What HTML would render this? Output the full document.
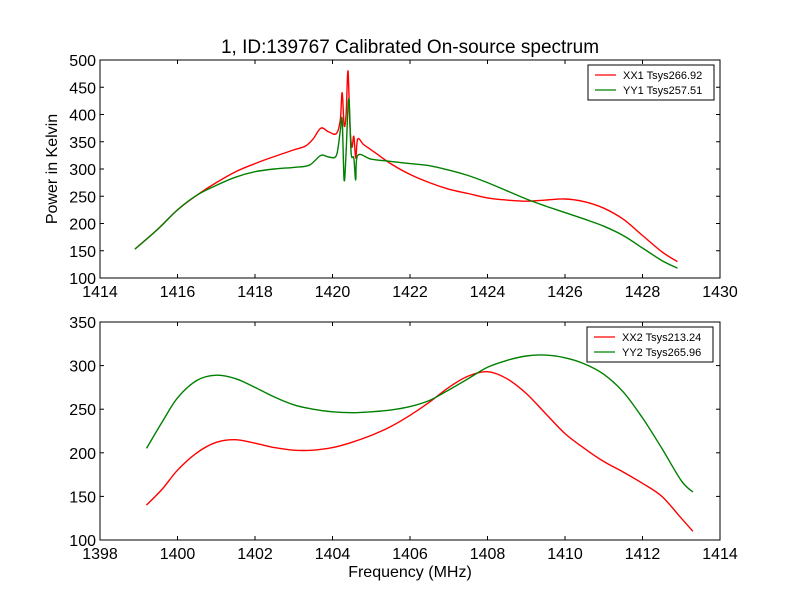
<!DOCTYPE html>
<html><head><meta charset="utf-8"><style>body{margin:0;background:#fff}svg{display:block;font-family:"Liberation Sans","DejaVu Sans",sans-serif}</style></head>
<body>
<svg id="chart" width="800" height="600"></svg>
<script>
const xx1F=[1414.9,1415.5,1416,1416.5,1417,1417.5,1418,1418.5,1419,1419.3,1419.5,1419.7,1419.9,1420.1,1420.2,1420.25,1420.3,1420.35,1420.4,1420.45,1420.5,1420.55,1420.6,1420.65,1420.8,1421,1421.5,1422,1422.5,1423,1423.5,1424,1424.5,1425,1425.5,1426,1426.5,1427,1427.5,1428,1428.5,1428.9];
const xx1V=[153,190,225,252,275,295,310,323,335,342,355,375,368,365,390,440,380,400,480,380,340,360,320,355,345,335,310,290,275,263,255,247,243,241,243,245,240,228,208,178,148,130];
const yy1F=[1414.9,1415.5,1416,1416.5,1417,1417.5,1418,1418.5,1419,1419.4,1419.7,1419.9,1420.1,1420.2,1420.25,1420.3,1420.35,1420.42,1420.48,1420.55,1420.6,1420.65,1421,1421.5,1422,1422.5,1423,1423.5,1424,1424.5,1425,1425.5,1426,1426.5,1427,1427.5,1428,1428.5,1428.9];
const yy1V=[153,190,225,252,270,285,295,300,303,307,325,322,325,370,390,280,330,430,330,320,280,325,318,314,310,306,298,288,275,260,245,232,220,208,195,178,155,132,118];
const xx2F=[1399.2,1399.6,1400,1400.5,1401,1401.5,1402,1402.5,1403,1403.5,1404,1404.5,1405,1405.5,1406,1406.5,1407,1407.5,1408,1408.5,1409,1409.5,1410,1410.5,1411,1411.5,1412,1412.5,1413,1413.3];
const xx2V=[140,158,180,200,212,215,211,206,203,203,206,212,220,230,243,258,275,288,293,285,268,245,222,205,190,178,165,150,125,110];
const yy2F=[1399.2,1399.6,1400,1400.5,1401,1401.5,1402,1402.5,1403,1403.5,1404,1404.5,1405,1405.5,1406,1406.5,1407,1407.5,1408,1408.5,1409,1409.5,1410,1410.5,1411,1411.5,1412,1412.5,1413,1413.3];
const yy2V=[205,235,263,283,289,285,275,264,255,250,247,246,247,249,253,260,272,285,298,306,311,312,309,302,290,270,240,205,168,155];
const topXT=[1414,1416,1418,1420,1422,1424,1426,1428,1430];
const topYT=[100,150,200,250,300,350,400,450,500];
const botXT=[1398,1400,1402,1404,1406,1408,1410,1412,1414];
const botYT=[100,150,200,250,300,350];

const NS="http://www.w3.org/2000/svg";
const svg=document.getElementById('chart');
function el(t,a,p){const e=document.createElementNS(NS,t);for(const k in a)e.setAttribute(k,a[k]);(p||svg).appendChild(e);return e;}
function txt(s,a,p){const e=el('text',a,p);e.textContent=s;return e;}
function smooth(pts){
  let d='M'+pts[0][0].toFixed(1)+','+pts[0][1].toFixed(1);
  for(let i=0;i<pts.length-1;i++){
    const p0=pts[Math.max(0,i-1)],p1=pts[i],p2=pts[i+1],p3=pts[Math.min(pts.length-1,i+2)];
    const k=1/6;
    const c1=[p1[0]+(p2[0]-p0[0])*k,p1[1]+(p2[1]-p0[1])*k];
    const c2=[p2[0]-(p3[0]-p1[0])*k,p2[1]-(p3[1]-p1[1])*k];
    d+='C'+c1[0].toFixed(1)+','+c1[1].toFixed(1)+' '+c2[0].toFixed(1)+','+c2[1].toFixed(1)+' '+p2[0].toFixed(1)+','+p2[1].toFixed(1);
  }
  return d;
}

function panel(name,top,x0,x1,y0,y1,xt,yt,series,legend){
  const L=100,R=720,T=top,B=top+218;
  const sx=f=>L+(f-x0)/(x1-x0)*(R-L), sy=v=>B-(v-y0)/(y1-y0)*(B-T);
  const g=el('g',{});
  
  
  const clip=el('clipPath',{id:name+'-clip'},g);el('rect',{x:L,y:T,width:R-L,height:B-T},clip);
  series.forEach(s=>{
    const pts=s.f.map((f,i)=>[sx(f),sy(s.v[i])]);
    const p=el('path',{d:smooth(pts),fill:'none',stroke:s.c,'stroke-width':1.4,'clip-path':'url(#'+name+'-clip)'},g);
    
    
  });
  const fr=el('rect',{x:L,y:T,width:R-L,height:B-T,fill:'none',stroke:'#000','stroke-width':1},g);
  
  
  xt.forEach(t=>{const x=sx(t);el('line',{x1:x,x2:x,y1:B,y2:B-4,stroke:'#000'},g);el('line',{x1:x,x2:x,y1:T,y2:T+4,stroke:'#000'},g);
    const e=txt(String(t),{x:x,y:B+19,'font-size':16,'text-anchor':'middle'},g);
    
    });
  yt.forEach(t=>{const y=sy(t);el('line',{x1:L,x2:L+4,y1:y,y2:y,stroke:'#000'},g);el('line',{x1:R,x2:R-4,y1:y,y2:y,stroke:'#000'},g);
    const e=txt(String(t),{x:L-4,y:y+6,'font-size':16,'text-anchor':'end'},g);
    
    });
  const lg=el('g',{},g);
  
  
  el('rect',{x:legend.x,y:T+5,width:126,height:35,fill:'#fff',stroke:'#000'},lg);
  legend.items.forEach((it,i)=>{const y=T+15+i*15;
    el('line',{x1:legend.x+7,x2:legend.x+28,y1:y,y2:y,stroke:it.c,'stroke-width':1.2},lg);
    const e=txt(it.t,{x:legend.x+35,y:y+4,'font-size':11},lg);
    
    });
}
panel('top-panel',60,1414,1430,100,500,topXT,topYT,
  [{f:xx1F,v:xx1V,c:'#ff0000',n:'xx1-line'},{f:yy1F,v:yy1V,c:'#008000',n:'yy1-line'}],
  {x:588,items:[{c:'#ff0000',t:'XX1 Tsys266.92'},{c:'#008000',t:'YY1 Tsys257.51'}]});
panel('bottom-panel',322,1398,1414,100,350,botXT,botYT,
  [{f:xx2F,v:xx2V,c:'#ff0000',n:'xx2-line'},{f:yy2F,v:yy2V,c:'#008000',n:'yy2-line'}],
  {x:587,items:[{c:'#ff0000',t:'XX2 Tsys213.24'},{c:'#008000',t:'YY2 Tsys265.96'}]});
let t=txt('1, ID:139767 Calibrated On-source spectrum',{x:410,y:53,'font-size':19,'text-anchor':'middle'});


t=txt('Power in Kelvin',{x:0,y:0,'font-size':16,'text-anchor':'middle',transform:'translate(57,169) rotate(-90)'});


t=txt('Frequency (MHz)',{x:410,y:577,'font-size':16,'text-anchor':'middle'});


</script>
</body></html>
